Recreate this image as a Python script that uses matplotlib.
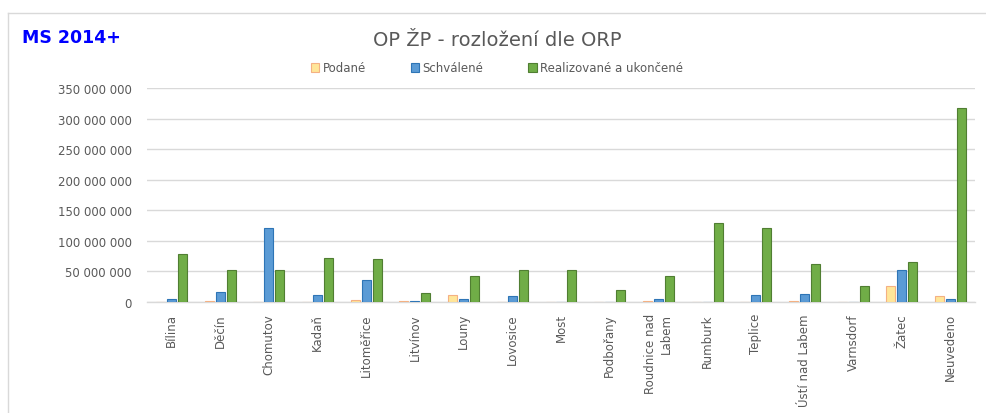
import numpy as np
import matplotlib
matplotlib.use('Agg')
import matplotlib.pyplot as plt
from matplotlib.ticker import FuncFormatter
from matplotlib.lines import Line2D

# Data (odhad z obrázku)
kategorie = ['Bílina', 'Děčín', 'Chomutov', 'Kadaň', 'Litoměřice', 'Litvínov',
             'Louny', 'Lovosice', 'Most', 'Podbořany', 'Roudnice nad\nLabem',
             'Rumburk', 'Teplice', 'Ústí nad Labem', 'Varnsdorf', 'Žatec', 'Neuvedeno']
podane = [0, 2e6, 0, 0, 3e6, 1.5e6, 11e6, 0, 0, 0, 2e6, 0, 0, 2e6, 0, 26.5e6, 10e6]
schvalene = [4.5e6, 17e6, 121e6, 11.5e6, 36e6, 1.5e6, 5e6, 10e6, 0, 0, 5e6,
             0, 11e6, 13e6, 0, 52e6, 5e6]
realizovane = [79e6, 53e6, 52e6, 72e6, 71e6, 15e6, 42e6, 52e6, 52e6, 19.5e6, 43e6,
               129.5e6, 121e6, 62e6, 25.5e6, 65e6, 318e6]

serie = ['Podané', 'Schválené', 'Realizované a ukončené']

plt.rcParams['font.family'] = ['DejaVu Sans']
seda = '#595959'

fig = plt.figure(figsize=(9.87, 4.14), dpi=100)
ax = fig.add_axes([147 / 987, 1 - 303 / 414, 828 / 987, 214 / 414])

x = np.arange(len(kategorie))
w = 0.185
krok = 0.225
ax.bar(x - krok, podane, w, color='#FFE699', edgecolor='#F4B183', linewidth=0.8, label=serie[0], zorder=3)
ax.bar(x, schvalene, w, color='#5B9BD5', edgecolor='#2E75B6', linewidth=0.8, label=serie[1], zorder=3)
ax.bar(x + krok, realizovane, w, color='#70AD47', edgecolor='#507E32', linewidth=0.8, label=serie[2], zorder=3)

ax.set_xlim(-0.5, len(kategorie) - 0.5)
ax.set_ylim(0, 350e6)
ax.set_yticks(np.arange(0, 350e6 + 1, 50e6))
ax.yaxis.set_major_formatter(FuncFormatter(lambda v, p: f'{int(v):,}'.replace(',', ' ')))
ax.set_xticks(x)
ax.set_xticklabels(kategorie, rotation=90, va='top', ha='center', multialignment='right')
ax.tick_params(axis='both', length=0, colors=seda, labelsize=8.5)
ax.tick_params(axis='x', pad=8)
ax.tick_params(axis='y', pad=11)

ax.grid(axis='y', color='#D9D9D9', linewidth=1, zorder=0)
for s in ['top', 'right', 'left']:
    ax.spines[s].set_visible(False)
ax.spines['bottom'].set_color('#D9D9D9')
ax.spines['bottom'].set_linewidth(1)

fig.text(497 / 987, 1 - 40 / 414, 'OP ŽP - rozložení dle ORP', ha='center', va='center',
         fontsize=14, color=seda)
fig.text(22 / 987, 1 - 38 / 414, 'MS 2014+', ha='left', va='center', fontsize=12.5,
         fontweight='bold', color='#0000FF')

fig.legend(loc='center', bbox_to_anchor=(497 / 987, 1 - 69 / 414), ncol=3, frameon=False,
           fontsize=8.5, labelcolor=seda, handlelength=0.7, handleheight=0.7,
           handletextpad=0.3, columnspacing=3.8)

# rámeček grafu
fig.add_artist(Line2D([8 / 987, 1], [1 - 14 / 414, 1 - 14 / 414], color='#D9D9D9', linewidth=1))
fig.add_artist(Line2D([8 / 987, 8 / 987], [0, 1 - 14 / 414], color='#D9D9D9', linewidth=1))

fig.savefig('out.png', dpi=100, facecolor='white')
